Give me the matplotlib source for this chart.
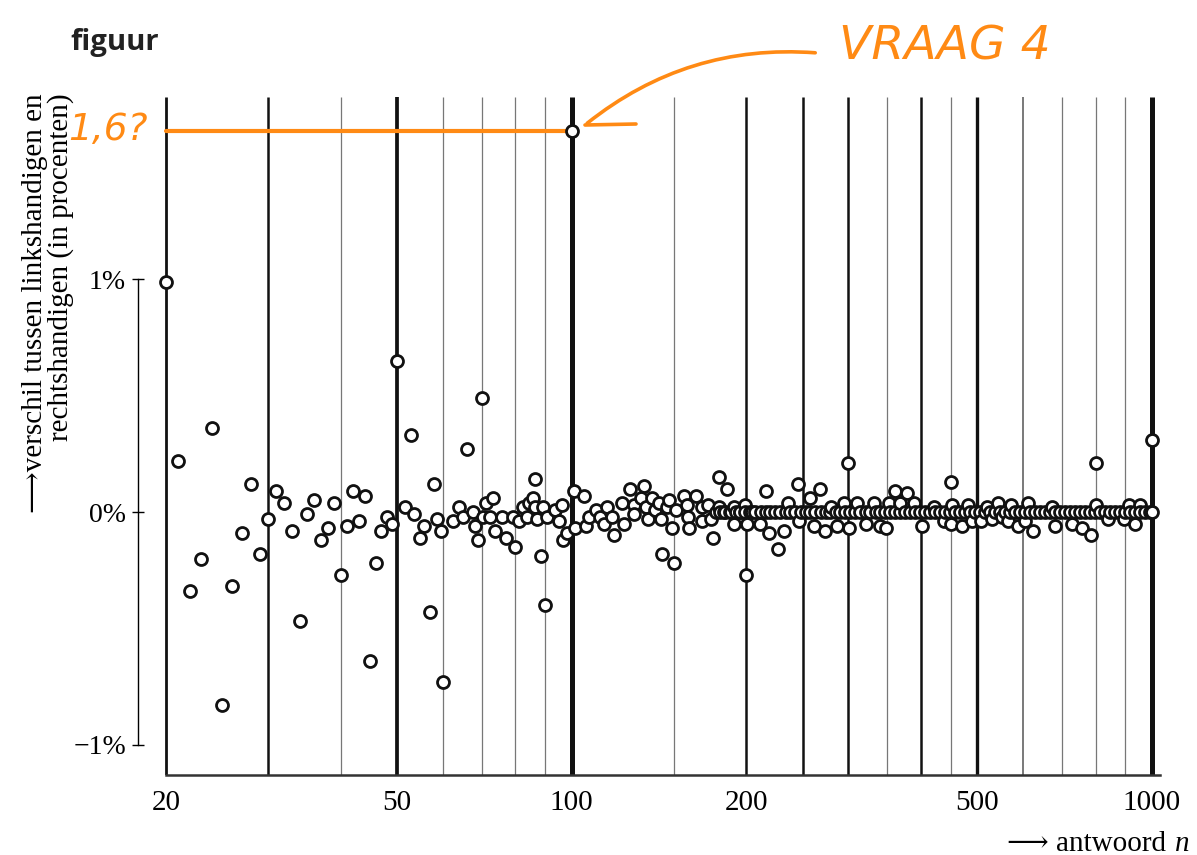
import numpy as np
import matplotlib
matplotlib.use("Agg")
import matplotlib.pyplot as plt
from matplotlib.patches import FancyArrowPatch
from matplotlib.lines import Line2D

# ---------------- data ----------------
n_20_50 = list(range(20, 51))
v_20_50 = [0.99, 0.22, -0.34, -0.20, 0.36, -0.83, -0.32, -0.09, 0.12, -0.18,
           -0.03, 0.09, 0.04, -0.08, -0.47, -0.01, 0.05, -0.12, -0.07, 0.04,
           -0.27, -0.06, 0.09, -0.04, 0.07, -0.64, -0.22, -0.08, -0.02, -0.05, 0.65]

n_50_100 = [51.7, 52.9, 53.5, 54.7, 55.7, 56.9, 57.9, 58.7, 59.6, 60,
            62.5, 64, 65.1, 66.1, 67.7, 68.1, 69, 70, 70.4, 71.2,
            72.3, 73.3, 73.9, 75.9, 77.1, 79.2, 79.8, 81.3, 82.4, 83.7,
            84.6, 85.7, 86.4, 86.6, 87.3, 88.7, 89.2, 90, 90.8, 93.8,
            95.3, 96.3, 96.6, 98.1, 100, 101, 101.2]
v_50_100 = [0.02, 0.33, -0.01, -0.11, -0.06, -0.43, 0.12, -0.03, -0.08, -0.73,
            -0.04, 0.02, -0.02, 0.27, 0.00, -0.06, -0.12, 0.49, -0.02, 0.04,
            -0.02, 0.06, -0.08, -0.02, -0.11, -0.02, -0.15, -0.04, 0.02, -0.02,
            0.04, 0.06, 0.14, 0.02, -0.03, -0.19, 0.02, -0.40, -0.02, 0.01,
            -0.04, 0.03, -0.12, -0.09, 1.64, 0.09, -0.07]

n_100_200 = [105.2, 105.7, 107.1, 110.0, 111.8, 113.9, 115.1, 117.3, 118.2, 122.3,
             123.0, 125.9, 127.9, 128.2, 131.7, 133.1, 134.5, 135.2, 137.7, 139.2,
             141.5, 142.6, 143.3, 146.0, 147.2, 148.8, 150, 151.5, 156.4, 158.1,
             158.5, 159.3, 163.6, 167.6, 168.0, 172.0, 173.9, 175.2, 179.5, 179.8,
             183.3, 185.3, 187.7, 190.3, 190.7, 194.8, 199.0, 200, 200.6, 204.3]
v_100_200 = [0.07, -0.06, -0.02, 0.01, -0.02, -0.05, 0.02, -0.02, -0.10, 0.04,
             -0.05, 0.10, 0.03, -0.01, 0.06, 0.11, 0.02, -0.03, 0.06, 0.01,
             0.04, -0.03, -0.18, 0.02, 0.05, -0.07, -0.22, 0.01, 0.07, 0.03,
             -0.02, -0.07, 0.07, 0.02, -0.04, 0.03, -0.03, -0.11, 0.15, 0.02,
             0.00, 0.10, 0.00, -0.05, 0.02, 0.00, 0.03, -0.27, -0.05, 0.00]

n_200_1000 = [211.4, 216, 218.8, 226.6, 232, 235.8, 245.8, 246.5, 257.8, 261.9,
              268.3, 273.3, 280, 286.7, 294.4, 300, 301, 310.4, 322, 331.6,
              339.6, 348.6, 352.4, 360.9, 368.6, 378.4, 389.6, 401.2, 420.8, 437.8,
              450, 450.7, 453, 471.2, 481.4, 489.2, 507.6, 519.9, 529.7, 542.4,
              552.3, 565.6, 571.6, 587.2, 604.5, 610.9, 623.8, 673.6, 680.9, 727.4,
              758.6, 785.3, 800, 801, 839.2, 896.3, 913, 935, 952.6, 1000]
v_200_1000 = [-0.05, 0.09, -0.09, -0.16, -0.08, 0.04, 0.12, -0.04, 0.06, -0.06,
              0.10, -0.08, 0.02, -0.06, 0.04, 0.21, -0.07, 0.04, -0.05, 0.04,
              -0.06, -0.07, 0.04, 0.09, 0.04, 0.08, 0.04, -0.06, 0.02, -0.04,
              0.13, -0.05, 0.03, -0.06, 0.03, -0.04, -0.04, 0.02, -0.03, 0.04,
              -0.02, -0.04, 0.03, -0.06, -0.04, 0.04, -0.08, 0.02, -0.06, -0.05,
              -0.07, -0.10, 0.21, 0.03, -0.03, -0.03, 0.03, -0.05, 0.03, 0.31]

n_zero_row = [177, 180, 184, 188, 192, 195, 199, 203, 207, 212,
              216, 220, 224, 229, 234, 238, 243, 248, 253, 258,
              263, 269, 274, 279, 285, 290, 296, 302, 308, 314,
              321, 327, 334, 340, 347, 354, 361, 368, 376, 383,
              391, 399, 407, 415, 423, 432, 440, 449, 458, 467,
              477, 486, 496, 506, 516, 526, 537, 548, 559, 570,
              581, 593, 605, 617, 629, 642, 655, 668, 681, 695,
              709, 723, 737, 752, 767, 782, 798, 814, 830, 847,
              864, 881, 899, 917, 935, 954, 973, 992, 1000]
v_zero_row = [0.0, 0.0, 0.0, 0.0, 0.0, 0.0, 0.0, 0.0, 0.0, 0.0,
              0.0, 0.0, 0.0, 0.0, 0.0, 0.0, 0.0, 0.0, 0.0, 0.0,
              0.0, 0.0, 0.0, 0.0, 0.0, 0.0, 0.0, 0.0, 0.0, 0.0,
              0.0, 0.0, 0.0, 0.0, 0.0, 0.0, 0.0, 0.0, 0.0, 0.0,
              0.0, 0.0, 0.0, 0.0, 0.0, 0.0, 0.0, 0.0, 0.0, 0.0,
              0.0, 0.0, 0.0, 0.0, 0.0, 0.0, 0.0, 0.0, 0.0, 0.0,
              0.0, 0.0, 0.0, 0.0, 0.0, 0.0, 0.0, 0.0, 0.0, 0.0,
              0.0, 0.0, 0.0, 0.0, 0.0, 0.0, 0.0, 0.0, 0.0, 0.0,
              0.0, 0.0, 0.0, 0.0, 0.0, 0.0, 0.0, 0.0, 0.0]

grid_n = [20, 30, 40, 50, 60, 70, 80, 90, 100, 150, 200, 250, 300, 350,
          400, 450, 500, 600, 700, 800, 900, 1000]
xtick_vals = [20, 50, 100, 200, 500, 1000]
xtick_labels = ["20", "50", "100", "200", "500", "1000"]
ytick_vals = [-1, 0, 1]
ytick_labels = ["\u22121%", "0%", "1%"]
question_n = [20, 100]
question_v = [1.64, 1.64]

# ---------------- styles ----------------
line_style = {
    20: (2.0, "#111111"), 30: (1.8, "#111111"), 40: (0.9, "#777777"),
    50: (2.7, "#111111"), 60: (0.9, "#777777"), 70: (0.9, "#777777"),
    80: (0.9, "#777777"), 90: (0.9, "#777777"), 100: (3.6, "#111111"),
    150: (0.9, "#777777"), 200: (1.8, "#111111"), 250: (1.8, "#111111"),
    300: (1.8, "#111111"), 350: (0.9, "#777777"), 400: (1.8, "#111111"),
    450: (0.9, "#777777"), 500: (2.4, "#111111"), 600: (1.1, "#555555"),
    700: (0.9, "#777777"), 800: (0.9, "#777777"), 900: (0.9, "#777777"),
    1000: (3.6, "#111111"),
}
ORANGE = "#FF8A14"
SERIF = ["Liberation Serif", "DejaVu Serif", "DejaVu Sans"]

W, H = 1197, 855
fig = plt.figure(figsize=(W / 100, H / 100), dpi=100)
ax = fig.add_axes([138 / W, (H - 775) / H, 1022 / W, (775 - 97) / H])

ax.set_xscale("log")
x_left = 20 * 10 ** ((138 - 166) / 580.3)
x_right = 20 * 10 ** ((1160 - 166) / 580.3)
ax.set_xlim(x_left, x_right)
ax.set_ylim(-(775 - 512) / 232.5, (512 - 97) / 232.5)

for g in grid_n:
    lw, col = line_style[g]
    ax.axvline(g, color=col, lw=lw, zorder=1, solid_capstyle="butt")

# orange guide line
ax.plot(question_n, question_v, color=ORANGE, lw=3.0, zorder=2,
        solid_capstyle="round", clip_on=False)

# points
n_all = np.array(n_20_50 + n_50_100 + n_100_200 + n_200_1000 + n_zero_row, dtype=float)
v_all = np.array(v_20_50 + v_50_100 + v_100_200 + v_200_1000 + v_zero_row, dtype=float)
order = np.argsort(n_all, kind="stable")
for xi, yi in zip(n_all[order], v_all[order]):
    ax.plot([xi], [yi], marker="o", ms=8.6, mfc="white", mec="#111111",
            mew=2.0, ls="none", zorder=3, clip_on=False)

# spines
for s in ["top", "right"]:
    ax.spines[s].set_visible(False)
ax.spines["left"].set_bounds(-1, 1)
ax.spines["left"].set_linewidth(1.0)
ax.spines["bottom"].set_bounds(20, x_right)
ax.spines["bottom"].set_linewidth(1.8)
ax.spines["bottom"].set_color("#333333")

ax.xaxis.set_minor_locator(matplotlib.ticker.NullLocator())
ax.set_xticks(xtick_vals)
ax.set_xticklabels(xtick_labels, fontfamily=SERIF, fontsize=21)
ax.tick_params(axis="x", length=0, pad=11)
ax.set_yticks(ytick_vals)
ax.set_yticklabels(ytick_labels, fontfamily=SERIF, fontsize=20)
ax.tick_params(axis="y", direction="inout", length=9, width=1.0, pad=4)

# y label
fig.text(48 / W, 1 - 93 / H,
         "\u27f6verschil tussen linkshandigen en\nrechtshandigen (in procenten)",
         rotation=90, ha="center", va="top", multialignment="right",
         fontsize=21, family=SERIF, linespacing=0.95)

# x label
fig.text(1190 / W, 1 - 851 / H, "n", ha="right", va="baseline",
         fontsize=21, family=SERIF, style="italic")
fig.text(1166 / W, 1 - 851 / H, "\u27f6 antwoord", ha="right", va="baseline",
         fontsize=21, family=SERIF)

# title
fig.text(70 / W, 1 - 50 / H, "figuur", ha="left", va="baseline",
         fontsize=21, fontweight="bold", family=["Open Sans", "DejaVu Sans"],
         color="#222222")

# handwritten annotations
fig.text(108 / W, 1 - 130 / H, "1,6?", ha="center", va="center", fontsize=27,
         color=ORANGE, style="italic", family=["DejaVu Sans"])
fig.text(945 / W, 1 - 47 / H, "VRAAG 4", ha="center", va="center", fontsize=34,
         color=ORANGE, style="italic", family=["DejaVu Sans"])
arrow = FancyArrowPatch((818 / W, 1 - 53 / H), (585 / W, 1 - 125 / H),
                        transform=fig.transFigure, connectionstyle="arc3,rad=0.2",
                        arrowstyle="-", color=ORANGE, lw=2.6, capstyle="round")
fig.add_artist(arrow)
fig.add_artist(Line2D([585 / W, 636 / W], [1 - 125 / H, 1 - 124 / H],
                      transform=fig.transFigure, color=ORANGE, lw=2.6,
                      solid_capstyle="round"))

fig.savefig("out.png", dpi=100)
